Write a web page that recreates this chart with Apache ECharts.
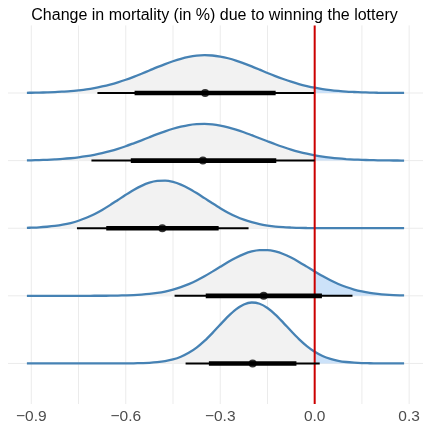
<!DOCTYPE html>
<html>
<head>
<meta charset="utf-8">
<script src="https://cdn.jsdelivr.net/npm/echarts@6/dist/echarts.min.js"></script>
<style>
  html, body { margin: 0; padding: 0; background: #fff; }
  #chart { width: 429px; height: 429px; }
</style>
</head>
<body>
<div id="chart"></div>
<script>
// density grid (x values, change in mortality)
const xGrid = [-0.914, -0.9, -0.875, -0.85, -0.825, -0.8, -0.775, -0.75, -0.725, -0.7,
  -0.675, -0.65, -0.625, -0.6, -0.575, -0.55, -0.525, -0.5, -0.475, -0.45,
  -0.425, -0.4, -0.375, -0.35, -0.325, -0.3, -0.275, -0.25, -0.225, -0.2,
  -0.175, -0.15, -0.125, -0.1, -0.075, -0.05, -0.025, 0, 0.025, 0.05,
  0.075, 0.1, 0.125, 0.15, 0.175, 0.2, 0.225, 0.25, 0.275, 0.284]

// density heights (1 = spacing between rows), top row first
const dens1 = [0.003, 0.004, 0.006, 0.009, 0.013, 0.020, 0.028, 0.040, 0.054, 0.073,
  0.097, 0.125, 0.158, 0.196, 0.239, 0.285, 0.333, 0.382, 0.428, 0.470,
  0.506, 0.534, 0.552, 0.559, 0.555, 0.539, 0.514, 0.480, 0.438, 0.393,
  0.345, 0.296, 0.250, 0.207, 0.167, 0.132, 0.103, 0.078, 0.058, 0.043,
  0.031, 0.021, 0.015, 0.010, 0.007, 0.004, 0.003, 0.002, 0.001, 0.001]
const dens2 = [0.004, 0.005, 0.008, 0.012, 0.018, 0.025, 0.035, 0.048, 0.065, 0.086,
  0.111, 0.141, 0.175, 0.213, 0.256, 0.300, 0.346, 0.391, 0.433, 0.471,
  0.502, 0.526, 0.539, 0.543, 0.536, 0.519, 0.493, 0.459, 0.420, 0.376,
  0.331, 0.286, 0.242, 0.201, 0.163, 0.130, 0.102, 0.079, 0.059, 0.044,
  0.032, 0.023, 0.016, 0.011, 0.007, 0.005, 0.003, 0.002, 0.001, 0.001]
const dens3 = [0.006, 0.008, 0.013, 0.022, 0.034, 0.052, 0.077, 0.111, 0.155, 0.208,
  0.271, 0.342, 0.418, 0.494, 0.566, 0.627, 0.673, 0.699, 0.703, 0.684,
  0.645, 0.589, 0.520, 0.445, 0.369, 0.296, 0.230, 0.173, 0.126, 0.089,
  0.060, 0.040, 0.025, 0.016, 0.010, 0.005, 0.003, 0.002, 0.001, 0.001,
  0, 0, 0, 0, 0, 0, 0, 0, 0, 0]
const dens4 = [0, 0, 0, 0, 0, 0, 0, 0, 0, 0.001,
  0.001, 0.002, 0.004, 0.007, 0.011, 0.018, 0.028, 0.043, 0.064, 0.092,
  0.128, 0.173, 0.227, 0.289, 0.358, 0.429, 0.499, 0.563, 0.617, 0.656,
  0.676, 0.677, 0.657, 0.619, 0.566, 0.502, 0.432, 0.361, 0.292, 0.230,
  0.175, 0.130, 0.093, 0.065, 0.044, 0.029, 0.018, 0.011, 0.007, 0.006]
const dens5 = [0, 0, 0, 0, 0, 0, 0, 0, 0, 0,
  0, 0, 0, 0.001, 0.002, 0.005, 0.009, 0.018, 0.034, 0.059,
  0.099, 0.157, 0.234, 0.333, 0.449, 0.574, 0.696, 0.800, 0.872, 0.901,
  0.883, 0.820, 0.723, 0.604, 0.479, 0.360, 0.257, 0.173, 0.111, 0.068,
  0.039, 0.021, 0.011, 0.005, 0.003, 0.001, 0, 0, 0, 0]
const densities = [dens1, dens2, dens3, dens4, dens5]

// row baselines, top row first
const rowLevels = [5, 4, 3, 2, 1]

// point estimate and intervals (thick ~80%, thin ~95%)
const medians = [-0.348, -0.355, -0.484, -0.162, -0.197]
const thickLo = [-0.572, -0.584, -0.662, -0.346, -0.336]
const thickHi = [-0.124, -0.122, -0.305, 0.023, -0.058]
const thinLo = [-0.690, -0.709, -0.755, -0.445, -0.410]
const thinHi = [-0.002, 0.000, -0.210, 0.120, 0.016]

const xTicks = [-0.9, -0.6, -0.3, 0, 0.3]
const xMinor = [-0.75, -0.45, -0.15, 0.15]

const X_MIN = -0.974
const X_MAX = 0.344
const Y_MIN = 0.4
const Y_MAX = 6.0

const GRID_COLOR = '#ebebeb'
const LINE_BLUE = '#4682b4'
const FILL_GRAY = '#f2f2f2'
const FILL_BLUE = '#cce2f9'

const chart = echarts.init(document.getElementById('chart'))

const series = []

// gridlines as plain two-point lines so they stay under the densities
function gridLine(data, width) {
  return {
    type: 'line',
    data,
    symbol: 'none',
    silent: true,
    z: 1,
    lineStyle: { color: GRID_COLOR, width },
  }
}
xTicks.forEach((v) => series.push(gridLine([[v, Y_MIN], [v, Y_MAX]], 1)))
xMinor.forEach((v) => series.push(gridLine([[v, Y_MIN], [v, Y_MAX]], 1)))
rowLevels.forEach((v) => series.push(gridLine([[X_MIN, v], [X_MAX, v]], 1)))

densities.forEach((dens, i) => {
  const base = rowLevels[i]
  const pts = xGrid.map((x, j) => [x, base + dens[j]])
  const left = pts.filter((p) => p[0] <= 0)
  const right = pts.filter((p) => p[0] >= 0)

  series.push({
    type: 'line',
    data: left,
    smooth: 0.3,
    symbol: 'none',
    z: 2,
    lineStyle: { width: 0 },
    areaStyle: { color: FILL_GRAY, origin: base, opacity: 1 },
  })
  series.push({
    type: 'line',
    data: right,
    smooth: 0.3,
    symbol: 'none',
    z: 2,
    lineStyle: { width: 0 },
    areaStyle: { color: FILL_BLUE, origin: base, opacity: 1 },
  })
  series.push({
    type: 'line',
    data: pts,
    smooth: 0.3,
    symbol: 'none',
    z: 3,
    lineStyle: { color: LINE_BLUE, width: 2.3 },
  })
})

// red reference line at zero
series.push({
  type: 'line',
  data: [[0, Y_MIN], [0, Y_MAX]],
  symbol: 'none',
  silent: true,
  z: 4,
  lineStyle: { color: '#cc0000', width: 2 },
})

// intervals and point estimates
rowLevels.forEach((y, i) => {
  series.push({
    type: 'line',
    data: [[thinLo[i], y], [thinHi[i], y]],
    symbol: 'none',
    z: 5,
    lineStyle: { color: '#000', width: 2, cap: 'butt' },
  })
  series.push({
    type: 'line',
    data: [[thickLo[i], y], [thickHi[i], y]],
    symbol: 'none',
    z: 6,
    lineStyle: { color: '#000', width: 4.6, cap: 'butt' },
  })
})
series.push({
  type: 'scatter',
  data: rowLevels.map((y, i) => [medians[i], y]),
  symbolSize: 8,
  z: 7,
  itemStyle: { color: '#000' },
})

chart.setOption({
  animation: false,
  title: {
    text: 'Change in mortality (in %) due to winning the lottery',
    left: 'center',
    top: 3,
    textStyle: {
      fontFamily: 'Liberation Sans',
      fontSize: 16,
      fontWeight: 'normal',
      color: '#000',
    },
  },
  grid: {
    left: 8,
    right: 6,
    top: 25.4,
    bottom: 25,
    containLabel: false,
  },
  xAxis: {
    type: 'value',
    min: X_MIN,
    max: X_MAX,
    axisLine: { show: false },
    axisTick: { show: false },
    splitLine: { show: false },
    axisLabel: {
      customValues: xTicks,
      margin: 5,
      fontFamily: 'Liberation Sans',
      fontSize: 15.5,
      color: '#4d4d4d',
      formatter: (v) => (v < 0 ? '\u2212' : '') + Math.abs(v).toFixed(1),
    },
  },
  yAxis: {
    type: 'value',
    min: Y_MIN,
    max: Y_MAX,
    show: false,
  },
  series,
})
</script>
</body>
</html>
